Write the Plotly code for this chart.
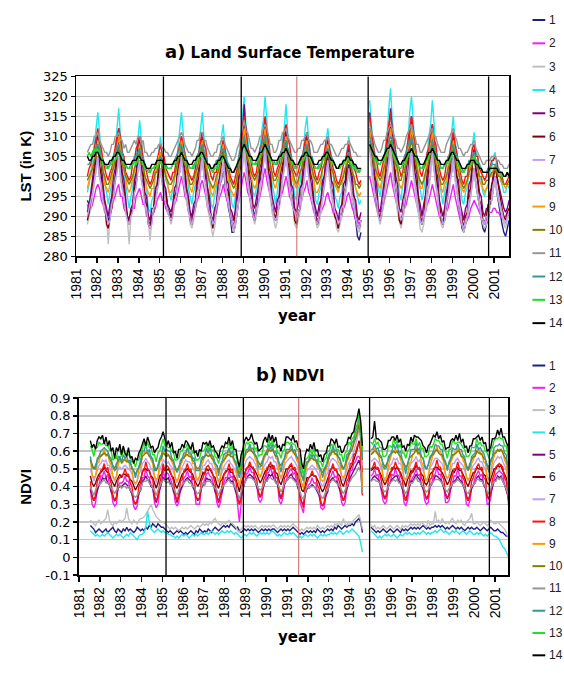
import plotly.graph_objects as go
import pandas as pd

N = None
series_names = [str(i) for i in range(1, 15)]
series_colors = ["#202080", "#f020f0", "#c0c0c0", "#20e8f0", "#800080", "#800000", "#c0a0f0",
                 "#ff1010", "#ff9900", "#808000", "#969696", "#339999", "#22dd22", "#000000"]
months = pd.date_range("1981-07-01", "2001-09-01", freq="MS")
decimal_years = [d.year + (d.month - 0.5) / 12 for d in months]
year_ticks = list(range(1981, 2002))
year_labels = [str(y) for y in year_ticks]
lst_ticks = [280, 285, 290, 295, 300, 305, 310, 315, 320, 325]
ndvi_ticks = [-0.1, 0, 0.1, 0.2, 0.3, 0.4, 0.5, 0.6, 0.7, 0.8, 0.9]
ndvi_tick_labels = ["-0.1", "0", "0.1", "0.2", "0.3", "0.4", "0.5", "0.6", "0.7", "0.8", "0.9"]
satellite_change_years = [1985.18, 1988.9, 1994.97, 2000.73]
pinatubo_year = 1991.56

# ---- LST (K), monthly, one row per year: 1981 Jul-Dec ... 2001 Jan-Sep ----
lst_1 = [
 [294,293,294,297,299,302],
 [305,300,299,295,292,291,289,290,294,295,300,302],
 [305,301,297,296,292,290,289,291,292,296,298,302],
 [304,300,297,294,292,289,288,290,291,295,296,300],
 [302,299,296,295,292,291,290,291,295,296,300,301],
 [305,301,298,296,292,291,289,291,293,296,298,302],
 [305,300,298,294,292,290,288,289,293,294,298,299],
 [303,298,296,292,290,286,286,288,291,296,298,304],
 [308,303,300,297,293,292,290,292,295,297,301,303],
 [307,303,299,296,293,290,289,290,294,295,300,302],
 [306,302,298,296,292,291,289,291,292,297,299,302],
 [306,301,298,295,292,290,288,289,293,295,299,301],
 [305,300,297,295,290,289,287,289,291,294,296,300],
 [303,299,294,291,289,285,284,286,N,N,N,N],
 [308,304,299,297,293,291,289,291,294,297,300,304],
 [308,303,300,296,294,290,289,290,294,296,300,303],
 [307,303,299,295,293,289,288,290,292,296,298,303],
 [306,302,298,295,292,290,288,289,293,295,299,301],
 [305,300,297,293,291,287,286,288,290,293,296,298],
 [302,298,295,292,290,287,286,288,289,293,294,297],
 [300,296,293,291,288,286,285,287,289]]
lst_2 = [
 [293,291,292,293,295,297],
 [298,297,294,293,291,291,290,291,292,294,295,297],
 [298,295,295,292,291,290,289,290,292,292,295,296],
 [297,295,293,293,290,290,289,290,291,292,294,295],
 [296,294,294,292,291,290,290,291,293,294,296,298],
 [300,298,295,294,291,290,289,290,292,294,295,298],
 [299,297,295,292,291,290,289,290,292,293,295,296],
 [298,296,294,293,291,289,289,290,291,294,296,299],
 [301,299,296,295,292,291,290,291,293,295,297,300],
 [302,299,297,295,293,290,290,291,292,295,296,298],
 [300,298,295,294,292,291,290,291,292,294,296,297],
 [299,296,295,293,291,290,289,290,291,292,293,295],
 [296,294,293,291,290,289,288,289,290,292,293,295],
 [296,294,292,291,289,289,288,289,N,N,N,N],
 [300,298,296,294,292,290,290,291,293,295,297,299],
 [301,298,296,294,292,290,289,290,292,293,295,297],
 [299,297,295,293,291,290,289,290,291,293,294,296],
 [298,296,294,292,290,289,288,289,291,292,294,296],
 [298,295,293,291,289,288,287,288,289,290,292,293],
 [294,293,292,291,290,289,289,289,290,291,291,292],
 [292,291,291,290,290,290,290,291,290]]
lst_3 = [
 [288,290,292,295,298,301],
 [304,300,297,294,291,290,283,290,293,296,298,302],
 [304,299,297,294,292,289,283,290,292,296,298,301],
 [303,299,296,293,291,289,284,289,291,294,296,299],
 [301,298,295,294,291,290,288,290,293,295,298,302],
 [304,299,297,293,292,288,287,289,292,294,298,301],
 [304,300,295,292,290,287,285,287,290,293,297,299],
 [303,299,295,293,290,288,286,288,291,294,298,302],
 [306,301,298,296,292,290,288,290,293,296,299,302],
 [306,302,298,295,291,289,287,289,292,295,298,301],
 [305,301,297,294,292,288,287,289,291,294,297,300],
 [304,300,296,294,291,289,287,288,291,294,296,300],
 [303,299,295,293,290,287,286,288,290,293,295,298],
 [301,298,294,292,290,287,286,288,N,N,N,N],
 [306,301,298,295,292,290,288,290,293,296,299,302],
 [306,302,297,295,291,289,287,289,292,294,298,301],
 [305,300,297,293,291,287,286,288,291,294,297,300],
 [305,301,297,294,292,288,287,289,291,295,297,301],
 [304,299,296,293,290,288,286,288,290,292,295,298],
 [301,298,295,293,290,288,287,288,290,292,294,297],
 [299,296,294,292,290,288,287,289,290]]
lst_4 = [
 [296,298,301,304,308,312],
 [316,311,305,303,298,296,293,296,298,304,306,312],
 [317,310,307,301,298,294,292,295,297,302,305,309],
 [314,309,303,300,297,292,291,294,295,300,302,307],
 [310,305,304,299,298,296,294,297,299,303,308,311],
 [316,311,305,303,297,295,293,296,298,304,306,312],
 [316,309,306,301,298,293,292,295,297,302,304,310],
 [313,307,305,299,297,293,292,295,300,303,310,313],
 [320,313,310,304,301,296,295,297,302,305,311,314],
 [320,314,307,305,298,296,293,296,300,303,309,312],
 [318,311,308,303,300,295,294,297,298,304,306,312],
 [315,309,306,301,299,294,293,296,297,302,303,309],
 [312,308,302,301,295,294,292,295,296,301,302,307],
 [310,305,303,299,297,295,293,294,N,N,N,N],
 [319,314,307,306,299,297,295,298,301,307,310,317],
 [322,314,310,304,301,296,294,298,300,306,309,316],
 [320,314,307,305,299,297,294,296,301,304,310,313],
 [319,313,306,304,298,296,293,296,298,303,305,311],
 [315,309,306,301,299,294,293,296,297,302,303,308],
 [311,306,305,300,299,296,295,297,297,301,302,305],
 [306,302,302,299,298,296,296,298,297]]
lst_5 = [
 [291,293,296,299,303,307],
 [311,305,303,298,294,292,290,293,295,300,302,308],
 [312,307,301,299,294,290,289,292,293,299,301,307],
 [310,304,302,296,295,290,289,292,292,297,298,303],
 [306,303,298,297,293,292,291,293,297,298,303,305],
 [310,304,302,297,295,291,290,293,294,300,302,307],
 [311,305,302,297,295,290,289,292,293,298,300,306],
 [309,305,299,298,292,291,289,292,297,300,307,311],
 [318,311,307,301,299,293,292,295,297,302,304,310],
 [314,309,303,301,295,293,291,294,295,301,303,308],
 [312,306,304,298,297,292,291,293,297,298,304,306],
 [311,307,301,299,294,292,290,293,294,299,300,306],
 [309,305,299,298,292,291,289,292,293,298,299,304],
 [307,302,300,295,294,290,289,291,N,N,N,N],
 [316,309,306,300,298,292,291,294,298,301,308,311],
 [317,310,306,300,298,292,291,294,296,302,304,310],
 [315,310,303,301,295,293,290,293,295,301,303,309],
 [313,308,302,300,294,292,290,292,296,298,304,306],
 [311,306,300,299,293,291,289,292,293,298,299,304],
 [307,302,300,296,295,291,290,292,292,296,297,301],
 [303,300,298,296,294,292,291,292,294]]
lst_6 = [
 [289,291,294,297,301,305],
 [309,303,300,295,293,288,287,290,292,297,299,305],
 [309,305,299,297,292,290,288,291,292,297,299,304],
 [308,302,300,294,293,288,287,290,291,296,297,302],
 [305,302,297,296,292,291,289,291,295,296,302,304],
 [309,303,301,295,294,289,288,291,292,298,300,306],
 [309,305,298,297,291,290,287,290,291,296,298,304],
 [307,303,297,296,290,289,287,291,293,299,302,309],
 [313,306,303,298,295,290,289,292,294,300,302,308],
 [312,307,301,299,293,291,289,292,293,299,301,307],
 [310,304,301,296,294,289,288,291,292,298,300,305],
 [309,305,299,297,292,290,288,290,294,295,300,302],
 [307,303,297,296,290,289,287,290,291,296,297,303],
 [306,302,296,295,292,288,287,289,N,N,N,N],
 [312,307,301,299,293,291,289,292,294,300,302,309],
 [313,306,303,297,295,289,288,291,293,299,301,308],
 [312,307,301,298,293,290,288,290,295,297,303,305],
 [311,305,301,297,294,289,288,291,292,298,300,306],
 [309,304,299,296,292,289,287,290,291,296,297,303],
 [306,301,299,294,293,289,288,290,293,293,298,299],
 [303,300,297,295,292,290,289,291,292]]
lst_7 = [
 [290,292,294,296,299,302],
 [305,300,298,294,292,290,288,289,293,295,299,301],
 [305,301,297,295,291,289,288,290,291,296,297,302],
 [304,299,297,293,292,288,287,288,292,293,297,298],
 [302,298,297,293,292,290,289,290,294,295,300,301],
 [305,301,297,295,292,289,288,290,292,296,297,302],
 [305,300,298,294,291,290,288,289,292,295,298,301],
 [304,300,296,294,290,289,287,289,293,295,301,303],
 [308,304,299,296,294,290,289,292,293,298,299,304],
 [307,302,299,296,293,290,289,290,294,295,300,302],
 [306,302,298,296,292,291,289,291,292,297,298,302],
 [305,300,298,294,292,289,288,290,292,295,298,300],
 [304,300,297,295,291,290,288,289,292,293,297,298],
 [302,299,295,294,290,288,287,289,N,N,N,N],
 [308,303,300,296,294,290,289,291,294,297,301,304],
 [308,304,299,297,293,291,289,290,294,296,300,303],
 [307,302,299,295,293,289,288,290,292,297,298,303],
 [306,302,298,296,291,290,288,289,293,295,299,301],
 [305,300,298,294,292,288,287,289,290,294,295,299],
 [302,298,296,294,290,289,288,290,290,294,294,298],
 [300,297,295,293,291,289,288,290,291]]
lst_8 = [
 [300,302,303,306,307,310],
 [312,308,307,304,302,300,299,301,302,305,307,310],
 [312,310,306,305,301,300,299,300,303,304,307,308],
 [310,308,304,303,301,299,298,299,301,302,304,306],
 [308,305,305,302,301,300,299,301,301,304,306,308],
 [310,308,305,304,301,300,299,300,302,305,306,309],
 [311,308,307,303,302,300,299,301,301,304,305,307],
 [309,307,303,303,300,299,298,300,302,305,307,312],
 [315,312,307,306,303,301,300,301,304,307,308,312],
 [315,311,309,305,304,301,300,302,303,306,307,311],
 [313,310,308,305,302,301,300,301,303,304,307,309],
 [311,309,305,304,302,300,299,301,302,304,306,309],
 [310,307,305,302,301,299,298,299,301,303,304,306],
 [308,305,304,302,301,299,298,299,N,N,N,N],
 [315,312,308,305,304,301,300,302,304,306,310,313],
 [316,311,310,306,303,302,300,301,305,306,309,312],
 [315,312,308,305,304,301,300,302,303,306,307,311],
 [313,309,308,304,302,300,299,300,303,304,306,309],
 [311,308,306,303,301,299,298,300,300,303,304,307],
 [308,305,305,302,301,300,299,300,302,302,304,304],
 [305,304,301,301,300,298,298,299,300]]
lst_9 = [
 [297,299,300,302,305,306],
 [309,307,303,302,298,297,296,298,299,303,304,307],
 [310,307,303,302,300,297,296,297,300,301,304,305],
 [308,304,303,300,297,296,295,297,297,301,302,305],
 [306,303,302,301,298,296,296,297,300,301,304,306],
 [309,306,304,301,299,297,296,298,299,302,303,307],
 [309,305,304,300,299,296,295,297,298,301,302,306],
 [308,304,303,300,297,296,295,296,300,301,306,308],
 [312,309,305,304,300,298,297,298,302,303,307,309],
 [312,308,306,302,301,298,297,299,300,303,304,308],
 [310,306,305,302,299,298,297,298,301,302,305,306],
 [309,306,304,301,299,296,296,297,299,302,303,306],
 [308,305,302,301,298,297,296,298,298,301,302,304],
 [306,304,301,300,297,296,295,296,N,N,N,N],
 [312,309,305,304,300,298,297,299,300,304,305,309],
 [312,308,306,302,301,298,297,298,301,303,307,308],
 [312,309,305,303,301,297,297,299,300,304,305,308],
 [311,307,305,301,300,297,296,298,299,302,304,306],
 [309,306,303,302,298,297,296,297,299,300,303,304],
 [306,303,303,299,298,297,296,297,298,300,300,302],
 [303,302,300,300,298,298,297,298,298]]
lst_10 = [
 [299,300,301,302,304,305],
 [307,305,304,301,300,298,298,299,301,302,304,305],
 [307,306,303,302,300,299,298,299,300,302,303,305],
 [306,303,303,300,299,298,297,298,299,301,301,303],
 [304,302,302,300,299,298,298,299,300,302,304,305],
 [307,304,303,302,300,298,298,299,301,302,304,306],
 [307,305,302,301,299,298,297,298,300,301,303,304],
 [306,304,302,301,299,298,297,298,300,302,304,307],
 [309,307,304,303,301,300,299,300,301,304,305,307],
 [309,306,305,303,301,299,299,300,302,303,305,306],
 [308,305,304,302,301,299,298,299,301,302,304,305],
 [307,305,303,302,300,299,298,299,300,302,303,305],
 [306,304,302,301,299,298,297,298,299,300,302,303],
 [304,303,301,300,298,298,297,298,N,N,N,N],
 [309,306,305,302,301,300,299,300,302,303,306,307],
 [309,307,304,303,302,299,299,301,301,304,305,307],
 [309,306,305,302,300,299,298,299,301,302,304,306],
 [308,306,303,302,300,298,298,299,300,302,303,305],
 [307,305,302,301,299,298,297,298,299,301,302,303],
 [305,303,302,300,300,298,298,299,299,300,301,301],
 [302,301,300,300,299,298,298,298,299]]
lst_11 = [
 [306,307,308,308,310,310],
 [311,309,308,307,306,306,305,306,308,308,310,310],
 [311,309,309,307,308,306,306,307,308,309,308,310],
 [310,308,309,306,306,305,305,306,306,307,307,308],
 [308,307,307,306,306,305,305,306,307,308,309,310],
 [311,310,308,307,306,306,305,306,307,309,309,311],
 [311,309,309,307,306,305,305,306,306,308,308,309],
 [310,308,307,306,305,304,304,305,307,308,310,312],
 [314,311,311,309,307,307,306,307,308,310,310,312],
 [313,312,310,308,308,306,306,307,309,309,311,311],
 [312,310,309,308,307,306,306,307,307,309,309,310],
 [311,309,309,308,306,306,306,307,308,308,309,309],
 [310,308,308,307,306,305,305,306,307,307,308,308],
 [309,308,307,306,306,305,305,305,N,N,N,N],
 [313,311,310,308,307,306,306,307,309,309,311,312],
 [313,312,310,309,307,307,306,307,308,310,311,312],
 [313,311,310,308,308,306,306,307,308,309,310,311],
 [312,310,310,308,307,306,306,306,308,309,310,311],
 [312,310,309,307,307,306,305,306,306,307,308,308],
 [309,307,306,305,304,303,303,304,304,304,305,305],
 [305,304,304,303,303,302,302,302,303]]
lst_12 = [
 [303,303,304,305,306,307],
 [308,307,305,304,303,303,302,303,304,305,306,307],
 [308,306,306,304,303,302,302,303,303,305,305,306],
 [307,305,305,303,302,302,301,302,302,303,304,304],
 [305,304,303,303,302,302,302,303,304,305,306,307],
 [308,306,306,304,303,302,302,302,304,305,306,307],
 [308,306,305,303,303,302,301,302,304,304,305,306],
 [307,306,304,303,302,301,301,302,303,305,306,308],
 [310,308,306,306,304,303,303,304,305,306,308,309],
 [310,309,307,305,304,304,303,303,305,306,307,308],
 [309,307,306,305,303,303,302,303,304,305,306,307],
 [308,306,305,305,303,302,302,303,303,304,305,306],
 [307,305,305,304,303,302,302,303,303,304,304,305],
 [306,304,304,303,302,302,301,302,N,N,N,N],
 [310,308,307,305,305,303,303,304,305,306,307,309],
 [310,309,306,306,304,303,303,303,305,306,308,308],
 [310,308,307,305,304,302,302,303,304,305,306,307],
 [309,307,306,304,304,302,302,303,303,305,305,307],
 [308,306,305,304,302,302,301,302,302,304,304,305],
 [306,304,304,303,302,301,301,301,302,302,303,303],
 [303,302,302,301,301,300,300,301,300]]
lst_13 = [
 [305,306,305,306,307,306],
 [307,305,305,303,303,302,302,303,303,304,304,305],
 [306,305,304,303,303,302,302,302,303,304,303,304],
 [305,304,303,302,302,301,301,302,302,303,302,303],
 [304,303,303,302,302,302,302,303,303,304,305,305],
 [306,305,304,303,303,302,302,303,303,304,305,305],
 [306,304,304,303,302,302,301,302,302,303,304,304],
 [305,304,303,302,302,301,301,302,303,304,305,307],
 [308,306,306,305,304,303,303,303,304,305,306,307],
 [308,307,306,304,304,303,303,304,304,305,305,306],
 [307,306,305,304,303,302,302,303,303,304,304,305],
 [306,305,304,304,303,302,302,302,303,304,305,305],
 [306,305,304,303,303,302,302,302,303,303,304,304],
 [305,303,303,302,302,301,301,302,N,N,N,N],
 [308,307,306,304,304,303,303,304,304,305,306,307],
 [308,306,305,304,303,302,302,303,303,304,305,306],
 [307,306,305,304,303,302,302,302,304,304,305,306],
 [307,305,305,304,303,302,302,303,303,304,304,305],
 [306,305,304,303,302,301,301,302,302,303,303,304],
 [305,304,303,302,302,301,301,301,301,302,302,302],
 [302,302,301,301,300,300,300,301,300]]
lst_14 = [
 [305,304,304,305,305,306],
 [306,305,304,304,303,303,303,304,304,305,305,306],
 [306,305,304,304,303,303,303,303,304,304,304,305],
 [305,304,304,303,302,302,302,303,303,303,304,304],
 [304,304,303,303,303,303,303,303,304,304,305,305],
 [306,305,304,304,303,303,303,304,304,305,305,306],
 [306,305,304,303,303,302,302,303,303,304,304,305],
 [305,304,303,302,302,301,301,302,303,304,305,307],
 [308,307,306,305,305,304,304,304,305,306,306,307],
 [308,307,306,305,304,304,304,304,305,305,306,306],
 [307,306,305,304,304,303,303,303,304,305,305,306],
 [306,305,305,304,303,303,303,304,304,305,305,306],
 [306,305,304,304,303,302,302,303,303,304,304,305],
 [305,304,304,303,303,302,302,302,N,N,N,N],
 [308,307,306,305,305,304,304,304,305,306,307,307],
 [308,307,306,305,304,303,303,304,304,305,306,306],
 [307,306,305,305,304,303,303,303,304,305,306,306],
 [307,306,305,304,304,303,303,303,304,304,305,306],
 [306,305,304,304,303,302,302,302,303,303,304,304],
 [304,303,303,302,302,301,301,301,301,302,302,302],
 [302,302,301,301,301,300,300,301,300]]

# ---- NDVI x 100, monthly, same row layout ----
ndvi_x100_1 = [
 [18,17,16,14,15,16],
 [15,14,15,16,14,15,16,17,15,14,16,15],
 [14,16,15,17,15,16,15,14,15,17,16,15],
 [16,15,17,16,18,17,19,18,17,19,18,17],
 [17,16,15,14,15,14,13,14,15,14,15,14],
 [13,14,13,14,15,14,13,15,14,16,15,14],
 [15,14,16,15,14,16,17,16,15,16,17,18],
 [17,18,17,19,18,17,16,17,15,14,15,16],
 [15,16,15,16,15,16,15,14,15,16,15,16],
 [15,16,15,16,16,15,14,15,16,15,16,15],
 [16,15,16,17,16,15,14,13,14,13,14,15],
 [14,15,14,15,14,16,15,14,15,14,15,16],
 [15,16,15,17,16,18,17,16,17,18,17,18],
 [18,19,18,20,21,22,20,14,N,N,N,N],
 [17,16,15,14,15,14,15,16,15,14,15,16],
 [15,14,15,16,15,14,16,15,16,15,16,17],
 [16,17,16,17,16,17,18,17,16,17,16,17],
 [17,18,17,18,17,18,17,16,17,16,17,18],
 [17,16,17,16,17,16,15,16,17,16,17,16],
 [16,17,16,15,16,17,16,15,16,17,16,15],
 [15,16,15,14,14,13,12,12,10]]
ndvi_x100_2 = [
 [39,30,28,31,39,41],
 [46,46,49,45,47,41,38,31,29,30,40,42],
 [42,43,46,43,43,38,36,29,27,29,37,38],
 [45,45,50,46,45,41,40,31,28,30,38,42],
 [49,45,48,47,45,42,39,31,29,31,39,40],
 [45,46,49,45,46,41,40,30,30,30,39,41],
 [44,47,48,46,45,41,38,31,28,31,38,42],
 [45,45,49,45,46,40,39,29,20,30,40,42],
 [47,48,51,48,48,43,41,33,31,33,41,43],
 [48,48,51,47,49,42,42,32,30,33,42,43],
 [47,49,50,47,48,43,40,31,28,25,36,39],
 [41,42,45,42,42,38,36,28,27,28,36,38],
 [45,46,49,45,46,41,38,31,29,31,39,41],
 [49,49,53,54,57,57,55,38,N,N,N,N],
 [46,47,50,46,47,42,39,32,30,32,41,42],
 [47,46,50,47,46,42,40,31,29,32,39,43],
 [45,47,50,46,47,41,39,32,30,31,40,41],
 [46,47,51,47,47,42,40,31,31,32,39,42],
 [46,46,50,46,46,41,39,30,29,32,39,41],
 [45,47,49,46,47,41,40,30,30,33,41,44],
 [47,48,49,48,47,41,39,34,30]]
ndvi_x100_3 = [
 [21,20,19,18,20,21],
 [19,20,21,22,27,21,19,18,20,19,20,21],
 [20,21,22,28,22,20,19,21,20,19,21,22],
 [22,23,24,26,28,30,27,25,23,22,21,20],
 [20,19,18,17,16,17,16,17,16,15,16,17],
 [16,17,16,17,18,17,16,17,18,17,18,19],
 [18,19,18,20,19,21,22,20,19,18,19,20],
 [19,20,21,20,19,18,17,15,14,16,17,18],
 [17,18,17,18,17,18,17,16,17,18,17,18],
 [17,18,17,18,18,17,16,17,18,17,18,17],
 [18,17,18,19,18,17,16,15,16,15,16,17],
 [16,17,16,17,16,18,17,16,17,16,17,18],
 [17,18,17,19,18,20,19,18,22,19,18,20],
 [19,20,21,22,23,24,21,16,N,N,N,N],
 [18,17,18,16,17,16,17,18,17,16,17,18],
 [17,16,17,18,17,16,18,17,18,17,18,19],
 [18,19,18,19,18,20,19,18,17,21,18,19],
 [19,26,20,21,19,22,20,19,20,19,21,22],
 [20,19,21,20,21,19,18,20,21,22,25,19],
 [19,20,19,18,19,20,19,18,19,21,20,19],
 [19,20,19,18,17,16,14,12,8]]
ndvi_x100_4 = [
 [15,14,13,12,13,12],
 [12,13,12,13,14,13,12,11,12,13,12,13],
 [12,11,12,13,12,14,13,12,11,10,12,13],
 [13,14,17,26,20,16,15,14,15,16,15,14],
 [15,14,14,13,13,12,12,11,12,11,12,13],
 [12,13,12,11,12,13,12,13,12,13,14,13],
 [13,14,13,14,15,14,13,14,13,14,15,14],
 [14,15,14,15,14,13,14,13,12,11,12,13],
 [12,13,14,13,14,13,12,13,14,13,14,13],
 [14,13,14,15,14,13,12,13,12,13,14,13],
 [13,14,13,14,13,12,11,12,11,12,13,12],
 [12,13,12,13,12,11,12,13,12,13,12,13],
 [13,14,13,14,13,14,15,14,13,14,15,14],
 [15,16,15,14,13,12,8,3,N,N,N,N],
 [15,14,13,12,11,12,11,12,13,12,13,12],
 [12,13,12,11,12,13,12,13,14,13,14,13],
 [13,14,13,14,13,14,15,14,13,14,13,14],
 [14,15,14,15,16,15,14,15,14,13,14,15],
 [14,15,14,13,14,15,14,13,14,15,14,13],
 [13,14,13,14,13,12,13,12,13,14,13,12],
 [12,11,10,8,6,5,3,1,-4]]
ndvi_x100_5 = [
 [38,35,32,34,38,41],
 [42,45,44,45,42,41,37,35,32,34,39,40],
 [40,41,42,41,40,38,36,32,30,32,36,38],
 [43,44,46,44,43,40,39,34,31,35,38,42],
 [45,44,44,45,42,41,37,35,31,35,38,40],
 [42,44,45,44,43,40,38,34,32,34,39,41],
 [41,45,44,44,42,41,37,35,31,35,37,41],
 [42,44,45,43,43,40,37,34,30,34,38,42],
 [44,46,47,46,45,43,40,37,34,37,40,43],
 [44,47,46,47,44,43,41,36,33,37,41,43],
 [44,46,47,45,44,42,39,35,31,30,36,39],
 [39,40,41,40,39,37,35,31,29,31,35,37],
 [42,44,45,43,43,41,38,35,32,35,39,42],
 [45,47,49,51,53,55,51,36,N,N,N,N],
 [43,45,46,45,44,42,39,36,33,36,40,42],
 [44,45,46,46,43,42,39,35,32,36,39,43],
 [43,45,47,45,44,41,39,36,33,35,40,42],
 [43,46,46,45,44,42,39,35,33,36,39,42],
 [43,44,46,44,43,41,38,35,32,35,39,41],
 [42,45,46,44,44,41,39,35,33,36,40,43],
 [44,46,45,46,43,41,38,35,28]]
ndvi_x100_6 = [
 [46,42,40,42,45,47],
 [48,49,51,49,48,47,44,42,40,43,45,47],
 [45,47,47,46,46,44,43,40,38,40,42,44],
 [48,50,50,49,49,46,45,42,39,42,46,47],
 [50,49,49,50,48,46,45,41,39,42,45,47],
 [48,49,50,49,48,47,44,42,40,42,45,48],
 [47,50,49,50,48,46,45,41,39,43,44,47],
 [48,49,50,48,48,46,44,41,37,42,45,48],
 [50,51,52,51,50,49,47,44,42,44,47,49],
 [49,52,51,52,50,48,47,43,41,44,48,50],
 [50,51,52,50,49,48,46,42,38,37,42,45],
 [45,46,47,46,46,44,42,39,37,39,42,44],
 [48,50,51,50,49,47,46,42,40,43,46,49],
 [50,52,55,58,61,66,60,48,N,N,N,N],
 [49,50,51,50,50,48,46,43,41,43,46,48],
 [49,51,50,51,49,48,45,43,40,44,46,49],
 [48,50,52,50,50,47,46,42,41,43,47,48],
 [49,51,51,50,49,48,46,43,41,43,46,49],
 [48,50,51,49,49,47,45,42,40,43,46,48],
 [48,51,50,50,49,47,46,42,41,44,47,50],
 [50,52,51,52,49,47,45,41,33]]
ndvi_x100_7 = [
 [50,46,43,46,49,52],
 [53,55,54,55,52,52,48,45,43,45,50,51],
 [50,51,52,51,50,49,47,43,41,43,47,49],
 [53,54,56,54,53,50,49,45,42,46,49,52],
 [55,54,53,54,52,51,48,45,42,46,48,51],
 [53,55,54,54,53,51,49,44,43,45,49,52],
 [52,54,55,53,53,50,49,45,42,46,48,51],
 [53,54,55,53,52,50,48,44,40,45,49,52],
 [55,56,57,56,55,53,51,47,45,47,51,53],
 [54,57,56,57,54,54,50,48,44,48,52,54],
 [55,56,57,55,54,52,50,46,41,40,45,49],
 [50,51,52,51,50,48,46,42,40,42,46,48],
 [53,55,56,55,54,52,49,46,43,46,50,53],
 [55,57,60,63,67,72,66,52,N,N,N,N],
 [54,55,56,55,54,52,50,46,44,46,50,52],
 [53,56,55,56,53,53,50,45,44,47,50,53],
 [54,55,57,54,55,52,49,46,43,46,51,52],
 [54,56,56,55,54,53,50,47,44,46,50,53],
 [53,55,56,54,53,52,49,46,43,46,50,52],
 [53,55,56,54,54,51,50,45,44,47,51,54],
 [55,57,56,57,54,52,49,45,38]]
ndvi_x100_8 = [
 [43,34,32,35,43,45],
 [49,50,53,49,51,45,42,34,32,33,44,45],
 [46,47,50,47,47,42,40,32,30,32,40,42],
 [49,49,54,50,49,45,44,35,32,34,42,46],
 [53,49,52,51,49,46,43,35,32,35,43,44],
 [49,50,53,49,50,44,44,34,33,33,43,45],
 [48,51,52,50,49,45,42,35,31,35,42,46],
 [49,49,53,49,50,44,43,33,30,34,44,46],
 [50,51,54,51,51,46,44,36,34,36,44,46],
 [51,51,54,50,52,45,45,35,33,36,45,46],
 [50,52,53,50,51,46,43,34,31,28,39,42],
 [45,46,49,46,46,41,39,31,29,31,39,41],
 [49,50,53,49,50,45,42,35,32,34,43,45],
 [53,53,58,59,63,64,61,35,N,N,N,N],
 [50,51,54,50,51,46,43,35,33,35,44,46],
 [51,50,54,51,50,46,44,35,32,35,43,47],
 [49,51,54,50,51,45,43,36,33,34,44,45],
 [50,51,55,51,51,46,44,35,34,35,43,46],
 [50,50,54,50,50,45,43,34,32,35,43,45],
 [49,51,53,50,51,45,44,34,33,36,44,47],
 [51,52,53,52,51,45,43,34,22]]
ndvi_x100_9 = [
 [56,47,45,46,53,54],
 [58,58,61,57,59,54,52,46,44,46,52,55],
 [54,54,57,54,55,50,50,43,42,43,50,51],
 [59,59,60,59,58,55,53,46,44,45,54,55],
 [61,58,59,58,57,54,52,45,43,45,52,54],
 [58,57,61,58,58,53,53,45,44,46,52,54],
 [57,58,61,57,58,54,52,46,43,44,53,54],
 [58,57,61,57,57,54,52,44,41,45,53,56],
 [60,60,63,60,60,56,54,47,46,48,55,57],
 [61,61,62,61,60,56,55,47,45,47,55,56],
 [60,60,63,59,59,55,53,45,42,39,48,51],
 [55,55,58,55,55,51,51,44,43,44,50,52],
 [58,58,62,58,59,54,53,46,45,47,54,56],
 [61,61,66,67,73,77,71,38,N,N,N,N],
 [59,59,62,59,59,54,52,45,43,45,52,55],
 [59,60,61,60,59,55,53,44,44,45,53,54],
 [58,59,62,58,60,54,52,45,43,46,52,55],
 [60,60,63,59,60,56,54,46,45,46,54,56],
 [59,59,62,59,58,55,53,45,44,45,53,55],
 [58,59,62,58,59,54,53,45,44,47,54,57],
 [60,60,61,61,60,55,53,44,30]]
ndvi_x100_10 = [
 [55,52,50,52,55,57],
 [57,58,59,58,58,56,54,52,50,53,54,57],
 [53,55,55,54,54,53,51,49,47,49,51,53],
 [57,58,59,59,57,57,54,52,49,52,55,56],
 [59,58,57,58,56,55,54,51,49,51,54,56],
 [56,58,58,57,57,55,54,51,50,51,54,56],
 [57,58,57,58,56,55,53,52,49,52,54,55],
 [56,58,58,57,57,55,53,50,47,51,55,57],
 [59,60,61,60,59,58,56,54,52,54,57,59],
 [58,61,60,61,59,57,57,53,52,54,56,59],
 [59,60,61,60,58,57,55,52,46,45,51,54],
 [54,56,56,55,55,53,52,49,48,50,52,54],
 [57,59,60,59,58,57,55,52,50,52,55,58],
 [59,61,64,67,70,75,69,55,N,N,N,N],
 [58,59,60,60,58,57,56,53,51,53,55,58],
 [59,60,59,60,58,57,55,53,51,52,56,57],
 [58,59,61,59,59,57,56,52,50,53,55,58],
 [58,60,61,59,58,58,55,53,51,53,56,58],
 [58,59,60,60,57,57,55,52,50,53,55,57],
 [57,60,59,59,58,56,55,52,51,54,56,59],
 [59,61,60,61,59,57,55,51,44]]
ndvi_x100_11 = [
 [40,37,35,38,40,41],
 [42,43,44,42,42,41,39,38,36,38,39,41],
 [39,40,40,39,40,38,37,35,34,35,37,38],
 [42,43,43,44,42,41,39,38,35,38,40,42],
 [44,43,42,43,41,41,39,37,35,38,40,41],
 [42,43,44,42,42,40,40,37,36,37,40,42],
 [41,43,43,43,42,40,39,38,35,38,39,41],
 [42,43,44,42,42,40,39,36,33,37,40,42],
 [44,45,45,45,44,43,41,39,38,39,41,43],
 [43,45,45,44,44,42,42,39,37,39,42,43],
 [44,45,45,44,43,42,40,37,34,33,37,40],
 [39,40,40,40,39,38,36,35,33,35,37,38],
 [42,43,44,43,42,41,40,38,36,38,40,42],
 [43,45,46,47,49,51,48,36,N,N,N,N],
 [43,44,44,43,43,42,40,38,37,38,40,42],
 [43,44,43,44,42,42,40,38,36,38,41,42],
 [42,44,45,43,43,41,40,38,37,38,40,42],
 [43,44,44,44,43,42,40,38,37,39,40,42],
 [42,43,44,43,42,41,39,37,36,38,40,41],
 [42,44,44,43,43,41,40,37,36,39,41,43],
 [43,45,44,45,43,41,39,36,30]]
ndvi_x100_12 = [
 [57,51,50,50,56,57],
 [60,61,62,61,60,57,56,51,49,50,57,57],
 [54,58,56,57,54,55,50,49,45,49,51,55],
 [60,60,64,59,61,56,56,49,49,51,56,58],
 [63,60,61,60,60,56,55,50,48,50,55,56],
 [59,59,62,59,59,56,56,49,49,49,56,57],
 [57,62,59,62,58,57,53,52,46,52,54,58],
 [59,59,62,58,60,55,54,48,45,49,56,58],
 [61,61,64,61,62,58,57,51,51,52,57,58],
 [60,64,61,64,59,60,56,53,48,54,56,61],
 [61,61,64,60,61,57,56,49,46,43,51,53],
 [55,58,57,58,55,55,51,50,45,49,51,56],
 [59,59,63,60,61,57,56,51,50,52,58,59],
 [61,65,66,71,73,80,71,56,N,N,N,N],
 [61,61,64,61,62,58,57,51,50,51,57,58],
 [60,64,61,64,59,60,55,52,47,53,56,61],
 [61,61,65,60,62,57,56,51,50,52,57,58],
 [60,64,63,63,61,61,56,54,49,54,56,62],
 [61,61,64,61,61,58,57,51,49,51,57,58],
 [59,64,61,62,60,59,55,52,48,55,57,62],
 [63,63,64,63,63,59,58,51,42]]
ndvi_x100_13 = [
 [63,61,57,62,62,65],
 [64,64,65,63,63,61,60,55,56,56,61,61],
 [57,61,58,59,58,57,54,54,51,55,55,59],
 [61,65,62,65,62,62,58,58,54,59,60,64],
 [67,63,63,62,62,60,59,55,55,56,60,60],
 [62,62,64,61,62,59,59,55,55,56,60,60],
 [61,64,61,64,60,61,57,56,53,57,58,62],
 [62,62,65,61,63,58,58,53,49,54,60,61],
 [65,64,65,65,64,61,62,57,58,58,63,63],
 [62,67,63,66,62,64,59,59,56,60,61,65],
 [65,64,65,64,64,61,61,55,50,46,55,56],
 [57,61,58,62,57,58,54,54,51,55,56,60],
 [60,64,63,64,61,61,58,58,54,59,60,65],
 [64,67,68,73,75,81,73,61,N,N,N,N],
 [65,64,67,64,65,62,62,57,57,58,63,63],
 [62,67,64,66,62,64,59,59,56,60,61,65],
 [64,64,67,63,65,61,62,57,57,58,63,62],
 [64,67,66,66,64,64,61,60,56,61,61,66],
 [65,64,65,65,64,62,61,57,57,58,62,62],
 [62,67,64,65,63,63,60,59,56,61,62,66],
 [67,67,68,67,67,63,63,57,50]]
ndvi_x100_14 = [
 [66,62,64,61,66,68],
 [67,69,64,68,63,66,60,62,56,62,60,64],
 [58,63,59,57,62,56,57,53,56,55,59,61],
 [64,67,63,68,65,62,63,59,61,62,66,68],
 [71,66,63,66,62,65,59,60,56,61,61,64],
 [62,66,65,63,61,65,59,60,57,61,60,65],
 [64,65,63,66,62,63,60,59,56,61,63,62],
 [65,64,68,63,66,61,61,55,51,58,61,66],
 [68,66,67,70,66,64,65,60,61,62,66,68],
 [65,70,66,69,65,68,62,63,60,64,63,68],
 [68,67,66,69,65,66,62,61,53,50,58,61],
 [60,64,61,65,60,61,57,58,54,58,59,63],
 [63,67,66,64,67,62,63,59,60,63,64,68],
 [67,70,71,76,79,84,77,63,N,N,N,N],
 [67,68,77,67,67,66,65,61,61,62,66,66],
 [68,68,66,69,65,67,62,63,60,64,63,68],
 [65,69,68,68,67,66,63,62,59,63,64,67],
 [69,68,71,67,69,65,66,61,62,62,66,67],
 [66,69,66,70,65,67,62,63,59,63,63,67],
 [67,68,69,66,68,64,65,60,61,62,67,67],
 [68,72,69,73,68,68,65,63,55]]

lst_series = [lst_1, lst_2, lst_3, lst_4, lst_5, lst_6, lst_7, lst_8, lst_9, lst_10, lst_11, lst_12, lst_13, lst_14]
ndvi_series = [ndvi_x100_1, ndvi_x100_2, ndvi_x100_3, ndvi_x100_4, ndvi_x100_5, ndvi_x100_6, ndvi_x100_7,
               ndvi_x100_8, ndvi_x100_9, ndvi_x100_10, ndvi_x100_11, ndvi_x100_12, ndvi_x100_13, ndvi_x100_14]

EXPECTED = [6] + [12] * 19 + [9]


def flat(rows, name):
    lens = [len(r) for r in rows]
    if lens != EXPECTED:
        bad = [(1981 + k, l) for k, l in enumerate(lens) if k >= len(EXPECTED) or l != EXPECTED[k]]
        raise ValueError(f"{name} row lengths wrong: {bad}, rows={len(rows)}")
    return [v for r in rows for v in r]


fig = go.Figure()
for i in range(14):
    y_lst = flat(lst_series[i], f"lst_{i+1}")
    fig.add_trace(go.Scatter(x=decimal_years, y=y_lst, mode="lines", name=series_names[i],
                             line=dict(color=series_colors[i], width=1.4), connectgaps=False,
                             showlegend=False, xaxis="x", yaxis="y", hoverinfo="skip"))
for i in range(14):
    y_nd = [None if v is None else v / 100 for v in flat(ndvi_series[i], f"ndvi_{i+1}")]
    fig.add_trace(go.Scatter(x=decimal_years, y=y_nd, mode="lines", name=series_names[i],
                             line=dict(color=series_colors[i], width=1.4), connectgaps=False,
                             showlegend=False, xaxis="x2", yaxis="y2", hoverinfo="skip"))

W, H = 564, 673
common_x = dict(tickvals=year_ticks, ticktext=year_labels, tickangle=-90, ticks="outside", ticklen=5,
                tickwidth=1.5, tickcolor="black", showline=True, linecolor="black", linewidth=1.5,
                mirror=True, showgrid=False, zeroline=False,
                tickfont=dict(family="Liberation Sans, Arial, sans-serif", size=14, color="black"))
common_y = dict(ticks="outside", ticklen=4, tickwidth=1.5, tickcolor="black", showline=True,
                linecolor="black", linewidth=1.5, mirror=True, showgrid=True, gridcolor="#c4c4c4",
                gridwidth=1.5, zeroline=False,
                tickfont=dict(family="DejaVu Sans, sans-serif", size=13, color="black"))

fig.update_layout(
    width=W, height=H, margin=dict(l=0, r=0, t=0, b=0),
    paper_bgcolor="white", plot_bgcolor="white", showlegend=False, hovermode=False,
    xaxis=dict(domain=[69 / W, 508.3 / W], anchor="y", range=[1981, 2001.71], **common_x),
    yaxis=dict(domain=[1 - 255 / H, 1 - 71 / H], anchor="x", range=[280, 325], tickvals=lst_ticks, **common_y),
    xaxis2=dict(domain=[71.7 / W, 507.7 / W], anchor="y2", range=[1980.98, 2001.65], **common_x),
    yaxis2=dict(domain=[1 - 581 / H, 1 - 400 / H], anchor="x2", range=[-0.1, 0.9], tickvals=ndvi_ticks,
                ticktext=ndvi_tick_labels, **common_y),
)

shapes = []
for xa, ya in (("x", "y"), ("x2", "y2")):
    for yr in satellite_change_years:
        shapes.append(dict(type="line", xref=xa, yref=ya + " domain", x0=yr, x1=yr, y0=0, y1=1,
                           line=dict(color="black", width=1.3), layer="above"))
    shapes.append(dict(type="line", xref=xa, yref=ya + " domain", x0=pinatubo_year, x1=pinatubo_year,
                       y0=0, y1=1, line=dict(color="#cc6666", width=1), layer="above"))

annotations = []
title_font = dict(family="DejaVu Sans, sans-serif", size=15, color="black")
annotations.append(dict(xref="paper", yref="paper", x=286 / W, y=1 - 46 / H, xanchor="center", yanchor="middle",
                        showarrow=False, font=title_font,
                        text="<b><span style='font-size:18px'>a)</span> Land Surface Temperature</b>"))
annotations.append(dict(xref="paper", yref="paper", x=287 / W, y=1 - 376 / H, xanchor="center", yanchor="middle",
                        showarrow=False, font=title_font,
                        text="<b><span style='font-size:18px'>b)</span> NDVI</b>"))
for yc in (316, 644):
    annotations.append(dict(xref="paper", yref="paper", x=293 / W, y=1 - yc / H, xanchor="center",
                            yanchor="middle", showarrow=False, font=title_font, text="<b>year</b>"))
ytitle_font = dict(family="Liberation Sans, Arial, sans-serif", size=15, color="black")
annotations.append(dict(xref="paper", yref="paper", x=17.5 / W, y=1 - 163 / H, xanchor="center", yanchor="middle",
                        showarrow=False, textangle=-90, font=ytitle_font, text="<b>LST (in K)</b>"))
annotations.append(dict(xref="paper", yref="paper", x=17.5 / W, y=1 - 490.5 / H, xanchor="center",
                        yanchor="middle", showarrow=False, textangle=-90, font=ytitle_font, text="<b>NDVI</b>"))

# manual legends (one per panel)
legend_font = dict(family="Liberation Sans, Arial, sans-serif", size=12, color="#222222")
for top, step in ((13.3, 23.85), (366.7, 22.8)):
    for i in range(14):
        yc = top + i * step
        shapes.append(dict(type="line", xref="paper", yref="paper", x0=532 / W, x1=545 / W,
                           y0=1 - yc / H, y1=1 - yc / H, line=dict(color=series_colors[i], width=2)))
        annotations.append(dict(xref="paper", yref="paper", x=547 / W, y=1 - yc / H, xanchor="left",
                                yanchor="middle", showarrow=False, font=legend_font, text=series_names[i]))

fig.update_layout(shapes=shapes, annotations=annotations)
fig.write_html("out.html", config={"displayModeBar": False, "staticPlot": True},
               post_script="document.body.style.margin='0';document.body.style.overflow='hidden';")
